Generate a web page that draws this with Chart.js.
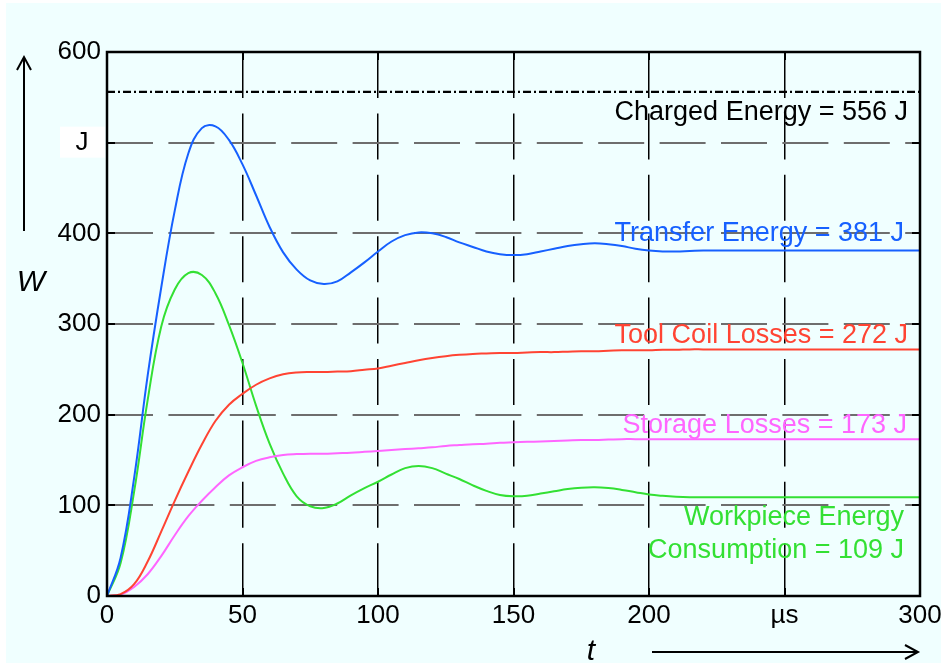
<!DOCTYPE html>
<html>
<head>
<meta charset="utf-8">
<script src="https://cdn.jsdelivr.net/npm/chart.js@4"></script>
<style>
  html, body { margin: 0; padding: 0; background: #fff; }
  canvas { display: block; }
</style>
</head>
<body>
<canvas id="myChart" width="948" height="663"></canvas>
<script>
// Data, time in µs, energy in J
const timeUs = [0, 5, 10, 15, 20, 25, 30, 35, 40, 45,
    50, 55, 60, 65, 70, 75, 80, 85, 90, 95,
    100, 105, 110, 115, 120, 125, 130, 135, 140, 145,
    150, 155, 160, 165, 170, 175, 180, 185, 190, 195,
    200, 205, 210, 215, 220, 225, 230, 235, 240, 245,
    250, 255, 260, 265, 270, 275, 280, 285, 290, 295, 300];

const transferEnergy = [0, 42, 130, 243, 340, 425, 488, 516, 518, 503,
    476, 442, 407, 379, 360, 348, 344, 347, 357, 368,
    380, 391, 398, 401, 400, 396, 390, 385, 380, 377,
    376, 377, 380, 383, 386, 388, 389, 388, 386, 383,
    381, 380, 380, 380.5, 381, 381, 381, 381, 381, 381,
    381, 381, 381, 381, 381, 381, 381, 381, 381, 381, 381];

const toolCoilLosses = [0, 2, 13, 38, 71, 105, 137, 167, 193, 211,
    223, 233, 240, 244.5, 246.5, 247, 247, 247.5, 248, 249.5,
    251, 254, 257, 260, 262.5, 264.5, 266, 267, 267.5, 268,
    268, 268.5, 269, 269, 269.5, 270, 270, 270.5, 271, 271,
    271, 271.5, 271.5, 272, 272, 272, 272, 272, 272, 272,
    272, 272, 272, 272, 272, 272, 272, 272, 272, 272, 272];

const storageLosses = [0, 1.5, 10, 24, 44, 67, 88, 105, 120, 133,
    142, 149, 153, 155.5, 156.5, 157, 157, 157.5, 158, 159,
    160, 161, 162, 163, 164, 165.5, 166.5, 167.5, 168, 169,
    169.5, 170, 170.5, 171, 171.5, 172, 172, 172.5, 173, 173,
    173, 173, 173, 173, 173, 173, 173, 173, 173, 173,
    173, 173, 173, 173, 173, 173, 173, 173, 173, 173, 173];

const workpieceEnergy = [0, 36, 115, 216, 297, 338, 356, 354, 334, 299,
    257, 210, 168, 135, 110, 99, 97, 102, 111, 119,
    126, 134, 141, 143.5, 141, 135, 129, 122, 116, 111.5,
    110, 110.5, 113, 115.5, 118, 119.5, 120, 119, 117, 114.5,
    112, 110.5, 109.5, 109, 109, 109, 109, 109, 109, 109,
    109, 109, 109, 109, 109, 109, 109, 109, 109, 109, 109];

const chargedEnergy = 556;

const xTicks = [0, 50, 100, 150, 200, 'µs', 300];
const yTicks = [0, 100, 200, 300, 400, 'J', 600];

const seriesLabels = ['Transfer Energy = 381 J', 'Tool Coil Losses = 272 J', 'Storage Losses = 173 J',
    'Workpiece Energy', 'Consumption = 109 J'];
const chargedLabel = 'Charged Energy = 556 J';

const FONT = "'Liberation Sans', Arial, sans-serif";
const BLUE = '#1660ff', RED = '#ff4433', PINK = '#ff66ff', GREEN = '#33e033';

const toPoints = vals => timeUs.map((t, i) => ({ x: t, y: vals[i] }));

function line(label, vals, color) {
    return {
        label: label,
        data: toPoints(vals),
        borderColor: color,
        borderWidth: 2,
        pointRadius: 0,
        fill: false,
        tension: 0.4
    };
}

// Background, axes frame, arrows, annotations
const decorPlugin = {
    id: 'decor',
    beforeDraw(chart) {
        const c = chart.ctx;
        c.save();
        c.fillStyle = '#ffffff';
        c.fillRect(0, 0, chart.width, chart.height);
        c.fillStyle = '#f0ffff';
        c.fillRect(6, 3, 935, 660);
        c.restore();
    },
    afterDatasetsDraw(chart) {
        const c = chart.ctx;
        const a = chart.chartArea;
        const xs = chart.scales.x, ys = chart.scales.y;
        c.save();

        // annotation texts
        c.font = '27px ' + FONT;
        c.textAlign = 'right';
        c.textBaseline = 'middle';
        const rx = a.right - 12;
        c.fillStyle = '#000';
        c.fillText(chargedLabel, rx, ys.getPixelForValue(533));
        c.fillStyle = BLUE;
        c.fillText(seriesLabels[0], rx - 4, ys.getPixelForValue(400));
        c.fillStyle = RED;
        c.fillText(seriesLabels[1], rx, ys.getPixelForValue(287));
        c.fillStyle = PINK;
        c.fillText(seriesLabels[2], rx - 1, ys.getPixelForValue(188));
        c.fillStyle = GREEN;
        c.fillText(seriesLabels[3], rx - 4, ys.getPixelForValue(86));
        c.fillText(seriesLabels[4], rx - 4, ys.getPixelForValue(50));

        // inward tick marks
        c.strokeStyle = '#000';
        c.lineWidth = 2;
        c.beginPath();
        ys.ticks.forEach(t => {
            const y = Math.round(ys.getPixelForValue(t.value));
            c.moveTo(a.left, y); c.lineTo(a.left + 8, y);
            c.moveTo(a.right, y); c.lineTo(a.right - 8, y);
        });
        xs.ticks.forEach(t => {
            const x = Math.round(xs.getPixelForValue(t.value));
            c.moveTo(x, a.bottom); c.lineTo(x, a.bottom - 8);
            c.moveTo(x, a.top); c.lineTo(x, a.top + 8);
        });
        c.stroke();

        // frame
        c.lineWidth = 2.5;
        c.strokeRect(a.left, a.top, a.right - a.left, a.bottom - a.top);

        // unit box for the y axis
        const yJ = ys.getPixelForValue(500);
        c.fillStyle = '#ffffff';
        c.fillRect(60, yJ - 16, 45, 31);
        c.fillStyle = '#000';
        c.font = '26px ' + FONT;
        c.textAlign = 'center';
        c.fillText(yTicks[5], 82, yJ);

        // axis arrows
        c.lineWidth = 2;
        c.beginPath();
        c.moveTo(24, 231); c.lineTo(24, 57);
        c.moveTo(17, 70); c.lineTo(24, 57); c.lineTo(31, 70);
        c.moveTo(652, 652); c.lineTo(918, 652);
        c.moveTo(905, 645); c.lineTo(918, 652); c.lineTo(905, 659);
        c.stroke();

        c.font = 'italic 30px ' + FONT;
        c.textAlign = 'center';
        c.fillText('W', 31, 283);
        c.fillText('t', 591, 652);
        c.restore();
    }
};

const ctx = document.getElementById('myChart').getContext('2d');
const myChart = new Chart(ctx, {
    type: 'line',
    data: {
        datasets: [
            {
                label: 'Charged Energy',
                data: [{ x: 0, y: chargedEnergy }, { x: 300, y: chargedEnergy }],
                borderColor: '#000',
                borderWidth: 2.2,
                borderDash: [8, 3, 2, 3],
                pointRadius: 0
            },
            line('Transfer Energy', transferEnergy, BLUE),
            line('Tool Coil Losses', toolCoilLosses, RED),
            line('Storage Losses', storageLosses, PINK),
            line('Workpiece Energy Consumption', workpieceEnergy, GREEN)
        ]
    },
    options: {
        responsive: false,
        animation: false,
        devicePixelRatio: 1,
        layout: { padding: { top: 52, right: 28, left: 0, bottom: 0 } },
        plugins: { legend: { display: false }, tooltip: { enabled: false } },
        scales: {
            x: {
                type: 'linear',
                min: 0,
                max: 300,
                afterFit(s) { s.height = 67; },
                ticks: {
                    stepSize: 50,
                    autoSkip: false,
                    maxRotation: 0,
                    padding: 4,
                    color: '#000',
                    font: { family: FONT, size: 26 },
                    callback: (v) => xTicks[Math.round(v / 50)]
                },
                grid: {
                    drawTicks: false,
                    color: (c) => (c.tick && (c.tick.value === 0 || c.tick.value === 300)) ? 'rgba(0,0,0,0)' : '#000',
                    lineWidth: 1.5
                },
                border: { display: false, dash: [46, 15.4] }
            },
            y: {
                min: 0,
                max: 600,
                afterFit(s) { s.width = 107; },
                ticks: {
                    stepSize: 100,
                    autoSkip: false,
                    padding: 6,
                    color: '#000',
                    font: { family: FONT, size: 26 },
                    callback: (v) => v === 500 ? '' : yTicks[Math.round(v / 100)]
                },
                grid: {
                    drawTicks: false,
                    color: (c) => (c.tick && (c.tick.value === 0 || c.tick.value === 600)) ? 'rgba(0,0,0,0)' : '#6e6e6e',
                    lineWidth: 2
                },
                border: { display: false, dash: [46, 15.4] }
            }
        }
    },
    plugins: [decorPlugin]
});
</script>
</body>
</html>
